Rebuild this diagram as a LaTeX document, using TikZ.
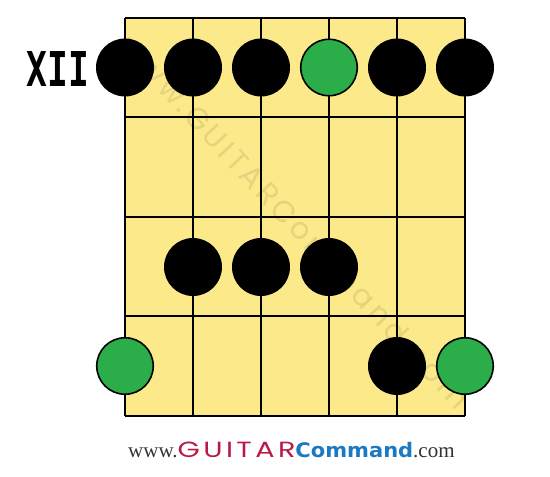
\documentclass[tikz,border=0pt]{standalone}
\usepackage{fontspec}
\newfontfamily\xiifont{DejaVu Sans Mono}
\newfontfamily\wwwfont{Liberation Serif}
\newfontfamily\guitarfont{Poppins}
\newfontfamily\guitarspaced[LetterSpace=12]{Poppins}
\newfontfamily\cmdfont{DejaVu Sans}
\definecolor{boardyellow}{HTML}{FCE98A}
\definecolor{dotgreen}{HTML}{2BAE4A}
\definecolor{guitarred}{HTML}{B81A45}
\definecolor{cmdblue}{HTML}{1B78C2}
\definecolor{wwwgray}{HTML}{333333}
\tikzset{
  fretline/.style={line width=2pt, black},
  blackdot/.style={circle, fill=black, minimum size=58pt, inner sep=0pt},
  greendot/.style={circle, fill=dotgreen, draw=black, line width=1.6pt, minimum size=56.5pt, inner sep=0pt},
}
\begin{document}
\begin{tikzpicture}[x=1pt,y=-1pt]
\useasboundingbox (0,0) rectangle (550,477);
% board
\fill[boardyellow] (125,18) rectangle (465,416);
% watermark
\node[rotate=-47, text=black, opacity=0.09, font=\guitarspaced\fontsize{30}{30}\selectfont] (wm) at (295,222) {www.GUITARCommand.com};
% frets
\foreach \y [count=\i] in {18,117,217,316,416} {
  \coordinate (fl\i) at (125,\y);
  \coordinate (fr\i) at (465,\y);
  \draw[fretline] (fl\i) -- (fr\i);
}
% strings
\foreach \x [count=\i] in {125,193,261,329,397,465} {
  \coordinate (st\i) at (\x,18);
  \coordinate (sb\i) at (\x,416);
  \draw[fretline] (st\i) -- (sb\i);
}
% dots row 1
\node[blackdot] (d11) at (125,67.5) {};
\node[blackdot] (d12) at (193,67.5) {};
\node[blackdot] (d13) at (261,67.5) {};
\node[greendot] (d14) at (329,67.5) {};
\node[blackdot] (d15) at (397,67.5) {};
\node[blackdot] (d16) at (465,67.5) {};
% row 3
\node[blackdot] (d32) at (193,267) {};
\node[blackdot] (d33) at (261,267) {};
\node[blackdot] (d34) at (329,267) {};
% row 4
\node[greendot] (d41) at (125,366) {};
\node[blackdot] (d45) at (397,366) {};
\node[greendot] (d46) at (465,366) {};
% fret number
\node[font=\xiifont\bfseries\fontsize{48}{48}\selectfont, inner sep=0pt] (xii) at (58,69.5) {\scalebox{0.72}[1]{XII}};
% footer
\node[inner sep=0pt, anchor=base west] (footer) at (128,457) {%
{\wwwfont\fontsize{21}{21}\selectfont\color{wwwgray}www.}%
{\guitarspaced\fontsize{22}{22}\selectfont\color{guitarred}\scalebox{1.3}[1]{GUITAR}}%
{\cmdfont\bfseries\fontsize{20}{20}\selectfont\color{cmdblue}\scalebox{1.05}[1]{Command}}%
{\wwwfont\fontsize{21}{21}\selectfont\color{wwwgray}.com}};
\end{tikzpicture}
\end{document}
